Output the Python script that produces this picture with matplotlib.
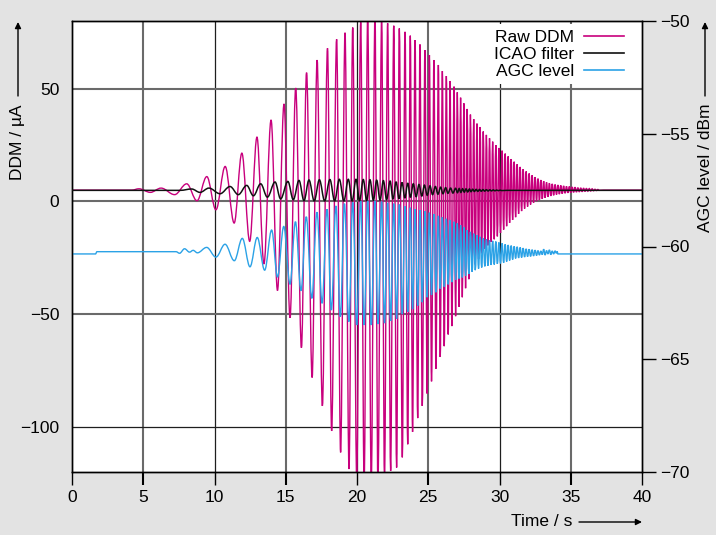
import matplotlib
matplotlib.use('Agg')
import matplotlib.pyplot as plt
from matplotlib.path import Path
from matplotlib.patches import PathPatch, FancyArrowPatch
from matplotlib.lines import Line2D

plt.rcParams['font.family'] = ['Liberation Sans', 'DejaVu Sans']

# ---------------- data (extrema) ----------------
# Raw DDM (µA): alternating extrema
ddm_t = [0.0, 4.2, 4.7, 5.5, 6.25, 7.2, 8.05, 8.77, 9.46, 10.1, 10.75, 11.38, 11.92, 12.47,
         12.98, 13.47, 13.97, 14.42, 14.88, 15.3, 15.7, 16.1, 16.46, 16.85, 17.2, 17.57,
         17.93, 18.22, 18.57, 18.85, 19.16, 19.44, 19.7, 19.98, 20.26, 20.5, 20.75, 21.0,
         21.26, 21.47, 21.73, 21.93, 22.15, 22.36, 22.58, 22.78, 22.97, 23.18, 23.37, 23.56,
         23.74, 23.9, 24.07, 24.26, 24.42, 24.58, 24.77, 24.92, 25.08, 25.23, 25.40, 25.54,
         25.71, 25.84, 25.99, 26.12, 26.27, 26.40, 26.53, 26.66, 26.81, 26.92, 27.04, 27.16,
         27.27, 27.39, 27.5, 27.62, 27.73, 27.85, 27.96, 28.08, 28.19, 28.30, 28.42, 28.53,
         28.64, 28.75, 28.86, 28.97, 29.08, 29.19, 29.30, 29.41, 29.52, 29.63, 29.74, 29.85,
         29.96, 30.07, 30.18, 30.29, 30.40, 30.50, 30.61, 30.71, 30.82, 30.92, 31.03, 31.13,
         31.24, 31.34, 31.45, 31.55, 31.66, 31.76, 31.87, 31.97, 32.08, 32.18, 32.29, 32.39,
         32.50, 32.60, 32.70, 32.80, 32.90, 33.0, 33.1, 33.2, 33.3, 33.4, 33.5, 33.6, 33.7,
         33.8, 33.9, 34.0, 34.1, 34.2, 34.3, 34.4, 34.5, 34.6, 34.7, 34.8, 34.9, 35.0, 35.1,
         35.2, 35.3, 35.4, 35.5, 35.6, 35.7, 35.8, 35.9, 36.0, 36.1, 36.2, 36.3, 36.4, 36.5,
         36.6, 36.7, 36.8, 36.9, 37.0, 37.3, 40.0]
ddm_v = [5.0, 5.0, 5.6, 4.0, 5.9, 3.0, 7.8, 0.3, 11.0, -3.7, 15.5, -9.6, 21.4, -17.7,
         28.5, -27.7, 36.1, -39.5, 43.2, -51.6, 50.3, -64.9, 57.1, -78.1, 62.7, -90.7,
         67.9, -101.8, 71.9, -111.3, 74.8, -118.7, 77.1, -123.0, 79.5, -125.0, 82.0, -125.0,
         82.0, -125.0, 81.0, -123.0, 79.0, -119.5, 77.9, -118.0, 76.7, -113.5, 75.2, -107.7,
         73.5, -102.2, 71.5, -96.1, 69.6, -90.7, 67.1, -85.2, 64.9, -79.8, 62.7, -74.2,
         60.5, -69.0, 57.8, -64.2, 55.6, -59.0, 53.4, -55.3, 50.9, -50.9, 48.4, -46.7,
         46.0, -42.5, 43.5, -38.5, 41.0, -34.5, 38.5, -31.0, 36.5, -28.0, 34.5, -25.5,
         33.0, -23.0, 31.0, -21.0, 29.5, -19.5, 28.0, -18.0, 26.5, -16.8, 25.0, -15.5,
         23.7, -14.0, 22.5, -12.5, 21.2, -11.0, 20.0, -9.5, 18.8, -8.2, 17.6, -7.0,
         16.5, -5.5, 15.3, -4.3, 14.3, -3.2, 13.3, -2.3, 12.4, -1.4, 11.6, -0.6,
         10.8, 0.1, 10.1, 0.6, 9.5, 1.1, 9.0, 1.6, 8.5, 2.0, 8.1, 2.4, 7.8,
         2.7, 7.5, 3.0, 7.3, 3.2, 7.1, 3.4, 6.9, 3.6, 6.7, 3.8, 6.6, 3.9, 6.4,
         4.0, 6.3, 4.1, 6.1, 4.2, 6.0, 4.3, 5.9, 4.4, 5.8, 4.5, 5.7, 4.6, 5.6,
         4.7, 5.4, 4.8, 5.3, 4.9, 5.0, 5.0]

# ICAO filter (µA)
icao_t = [0.0, 7.6, 8.4, 8.98, 9.61, 10.39, 11.09, 11.67, 12.26, 12.73, 13.24, 13.71, 14.25,
          14.64, 15.15, 15.53, 15.93, 16.28, 16.63, 17.0, 17.36, 17.73, 18.1, 18.43, 18.76,
          19.08, 19.39, 19.66, 19.93, 20.18, 20.44, 20.68, 20.91, 21.15, 21.38, 21.62, 21.85,
          22.08, 22.32, 22.53, 22.74, 22.95, 23.16, 23.36, 23.56, 23.75, 23.95, 24.15, 24.35,
          24.55, 24.73, 24.93, 25.12, 25.3, 25.5, 25.68, 25.87, 26.03, 26.22, 26.38, 26.57,
          26.73, 26.92, 27.05, 27.17, 27.29, 27.41, 27.53, 27.65, 27.77, 27.89, 28.0, 28.12,
          28.24, 28.36, 28.48, 28.6, 28.72, 28.84, 28.96, 29.08, 29.2, 29.32, 29.44, 29.56,
          29.68, 29.8, 29.92, 30.04, 30.16, 30.5, 40.0]
icao_v = [4.9, 4.9, 5.5, 4.0, 5.9, 3.4, 6.6, 3.0, 7.1, 2.5, 7.8, 1.9, 8.6,
          1.1, 8.85, 0.75, 9.3, 0.3, 9.5, 0.2, 9.6, 0.2, 9.7, 0.2, 9.8,
          0.2, 9.8, 0.2, 9.8, 0.3, 9.7, 0.4, 9.6, 0.5, 9.4, 0.6, 9.2,
          0.8, 9.0, 1.0, 8.7, 1.2, 8.4, 1.5, 8.1, 1.8, 7.8, 2.1, 7.5,
          2.4, 7.2, 2.7, 6.9, 3.0, 6.6, 3.2, 6.3, 3.4, 6.1, 3.6, 5.9,
          3.7, 5.8, 3.9, 5.7, 4.0, 5.6, 4.1, 5.55, 4.2, 5.5, 4.3, 5.4,
          4.4, 5.35, 4.45, 5.3, 4.5, 5.25, 4.55, 5.2, 4.6, 5.15, 4.65, 5.1,
          4.7, 5.05, 4.75, 5.0, 4.8, 4.9, 4.9]

# AGC level (dBm)
agc_t = [0.0, 1.65, 1.75, 7.3, 7.55, 7.9, 8.25, 8.5, 8.8, 9.45, 10.1, 10.74, 11.39, 11.95,
         12.49, 13.0, 13.52, 14.01, 14.42, 14.86, 15.3, 15.68, 16.07, 16.44, 16.83, 17.19,
         17.55, 17.9, 18.2, 18.52, 18.83, 19.12, 19.43, 19.7, 19.98, 20.26, 20.5, 20.75,
         21.0, 21.26, 21.47, 21.73, 21.93, 22.15, 22.36, 22.58, 22.78, 22.97, 23.18, 23.37,
         23.56, 23.74, 23.9, 24.07, 24.26, 24.42, 24.58, 24.77, 24.92, 25.08, 25.23, 25.40,
         25.54, 25.71, 25.84, 25.99, 26.12, 26.27, 26.40, 26.53, 26.66, 26.81, 26.92, 27.04,
         27.16, 27.27, 27.39, 27.5, 27.62, 27.73, 27.85, 27.96, 28.08, 28.19, 28.30, 28.42,
         28.53, 28.64, 28.75, 28.86, 28.97, 29.08, 29.19, 29.30, 29.41, 29.52, 29.63, 29.74,
         29.85, 29.96, 30.07, 30.18, 30.29, 30.40, 30.50, 30.61, 30.71, 30.82, 30.92, 31.03,
         31.13, 31.24, 31.34, 31.45, 31.55, 31.66, 31.76, 31.87, 31.97, 32.08, 32.18, 32.29,
         32.39, 32.5, 32.6, 32.7, 32.8, 32.9, 33.0, 33.1, 33.2, 33.3, 33.4, 33.5, 33.6, 33.7,
         33.8, 33.9, 34.0, 34.05, 34.1, 40.0]
agc_v = [-60.33, -60.33, -60.23, -60.23, -60.3, -60.1, -60.25, -60.17, -60.28, -60.04, -60.47,
         -59.9, -60.63, -59.64, -60.9, -59.6, -61.05, -59.27, -61.35, -59.11, -61.67, -58.9,
         -61.96, -58.68, -62.3, -58.48, -62.52, -58.35, -62.82, -58.2, -63.11, -58.1, -63.33,
         -58.04, -63.48, -57.98, -63.48, -57.97, -63.48, -57.97, -63.44, -58.01, -63.4, -58.06,
         -63.3, -58.1, -63.2, -58.14, -63.0, -58.22, -62.9, -58.28, -62.78, -58.34, -62.62,
         -58.39, -62.47, -58.44, -62.25, -58.5, -62.15, -58.56, -62.03, -58.64, -61.87, -58.7,
         -61.78, -58.77, -61.68, -58.84, -61.58, -58.9, -61.48, -58.97, -61.42, -59.05, -61.37,
         -59.15, -61.3, -59.27, -61.22, -59.35, -61.12, -59.43, -61.05, -59.5, -60.98, -59.57,
         -60.93, -59.64, -60.88, -59.68, -60.85, -59.72, -60.82, -59.75, -60.8, -59.78, -60.77,
         -59.82, -60.75, -59.86, -60.72, -59.9, -60.67, -59.93, -60.62, -59.96, -60.58, -59.99,
         -60.53, -60.01, -60.51, -60.04, -60.49, -60.07, -60.47, -60.1, -60.45, -60.12, -60.44,
         -60.14, -60.42, -60.16, -60.4, -60.18, -60.38, -60.2, -60.36, -60.12, -60.38, -60.18,
         -60.33, -60.15, -60.36, -60.2, -60.33, -60.2, -60.3, -60.22, -60.33, -60.33]

x_ticks = [0, 5, 10, 15, 20, 25, 30, 35, 40]
ddm_ticks = [-100, -50, 0, 50]
agc_ticks = [-70, -65, -60, -55, -50]
series_labels = ['Raw DDM', 'ICAO filter', 'AGC level']

MAGENTA = '#c8007d'
BLUE = '#2ba2e6'
BLACK = '#111111'
GRID_DARK = '#1e1e1e'
GRID_GREY = '#6a6a6a'
FS = 12.5


def smooth_path(ts, vs, k=0.36):
    verts = [(ts[0], vs[0])]
    codes = [Path.MOVETO]
    for i in range(1, len(ts)):
        t0, v0, t1, v1 = ts[i - 1], vs[i - 1], ts[i], vs[i]
        dt = t1 - t0
        verts += [(t0 + k * dt, v0), (t1 - k * dt, v1), (t1, v1)]
        codes += [Path.CURVE4] * 3
    return Path(verts, codes)


def minus(v):
    return str(v).replace('-', '\u2212')


fig = plt.figure(figsize=(7.16, 5.35), dpi=100, facecolor='#e3e3e3')
ax = fig.add_axes([72 / 716, 63 / 535, 570 / 716, 451 / 535])
ax.set_facecolor('white')
ax2 = ax.twinx()

# grid lines (alternating weight as in the reference)
for xv in x_ticks[1:-1]:
    grey = xv % 10 == 5
    ax.axvline(xv, color=GRID_GREY if grey else GRID_DARK, lw=1.5 if grey else 0.9, zorder=1)
for yv in ddm_ticks:
    grey = yv != -100
    ax.axhline(yv, color=GRID_GREY if grey else GRID_DARK, lw=1.5 if grey else 0.9, zorder=1)

ax.add_patch(PathPatch(smooth_path(ddm_t, ddm_v), fill=False, edgecolor=MAGENTA,
                       lw=1.0, zorder=2))
ax2.add_patch(PathPatch(smooth_path(agc_t, agc_v), fill=False, edgecolor=BLUE,
                        lw=1.0, zorder=2))
ax2.add_patch(PathPatch(smooth_path(icao_t, icao_v), fill=False, edgecolor=BLACK,
                        lw=1.1, zorder=3, transform=ax.transData))

ax.set_xlim(0, 40)
ax.set_ylim(-120, 80)
ax2.set_ylim(-70, -50)

ax.set_xticks(x_ticks)
ax.set_xticklabels([str(v) for v in x_ticks])
ax.set_yticks(ddm_ticks)
ax.set_yticklabels([minus(v) for v in ddm_ticks])
ax2.set_yticks(agc_ticks)
ax2.set_yticklabels([minus(v) for v in agc_ticks])

for a in (ax, ax2):
    for s in a.spines.values():
        s.set_color('black')
        s.set_linewidth(1.0)

ax.tick_params(axis='x', direction='out', length=9, width=1.0, pad=4, labelsize=FS)
for xv, tk in zip(x_ticks, ax.xaxis.get_major_ticks()):
    grey = xv % 10 == 5
    tk.tick1line.set_color(GRID_GREY if grey else GRID_DARK)
    tk.tick1line.set_markeredgewidth(1.5 if grey else 1.0)
ax.tick_params(axis='y', length=0, pad=9, labelsize=FS)
ax2.tick_params(axis='y', direction='out', length=10, width=1.0, pad=3, labelsize=FS)

handles = [Line2D([], [], color=MAGENTA, lw=1.2),
           Line2D([], [], color=BLACK, lw=1.2),
           Line2D([], [], color=BLUE, lw=1.2)]
leg = ax2.legend(handles, series_labels, loc='upper right', markerfirst=False,
                 bbox_to_anchor=(1 - 9 / 570, 1.0),
                 frameon=True, facecolor='white', edgecolor='none', framealpha=1,
                 fancybox=False, fontsize=FS, handlelength=2.3, handletextpad=0.6,
                 labelspacing=0.1, borderaxespad=0.2, borderpad=0.3)
leg.set_zorder(10)

# axis titles with arrows
fig.text(18 / 716, 1 - 104 / 535, 'DDM / µA', rotation=90, ha='center', va='top',
         fontsize=FS)
fig.text(705 / 716, 1 - 104 / 535, 'AGC level / dBm', rotation=90, ha='center',
         va='top', fontsize=FS)
fig.text(572 / 716, 1 - 522 / 535, 'Time / s', ha='right', va='center', fontsize=FS)
arrow = dict(arrowstyle='-|>', color='black', lw=1.0, mutation_scale=9,
             shrinkA=0, shrinkB=0)
fig.add_artist(FancyArrowPatch((18 / 716, 1 - 96 / 535), (18 / 716, 1 - 22 / 535),
                               transform=fig.transFigure, **arrow))
fig.add_artist(FancyArrowPatch((705 / 716, 1 - 96 / 535), (705 / 716, 1 - 22 / 535),
                               transform=fig.transFigure, **arrow))
fig.add_artist(FancyArrowPatch((579 / 716, 1 - 522 / 535), (642 / 716, 1 - 522 / 535),
                               transform=fig.transFigure, **arrow))

fig.savefig('out.png', dpi=100, facecolor=fig.get_facecolor())
